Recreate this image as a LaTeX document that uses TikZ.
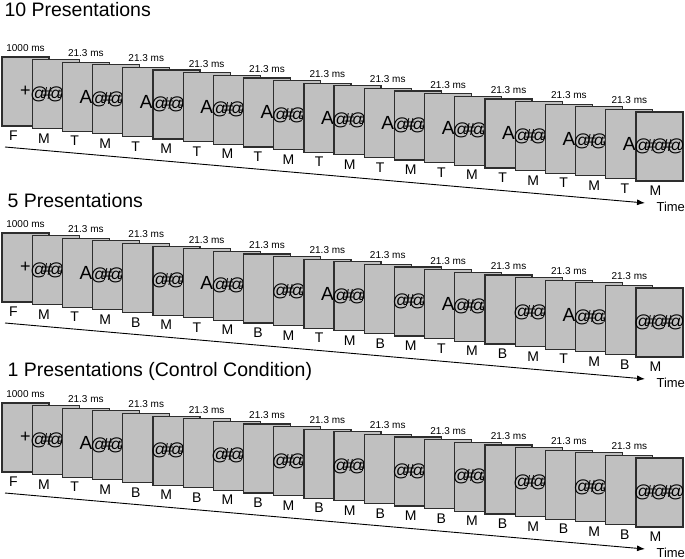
\documentclass[tikz,border=0pt]{standalone}
\usepackage{fontspec}
\setmainfont{Liberation Sans}
\usetikzlibrary{arrows.meta}
\definecolor{slide}{HTML}{C0C0C0}
\definecolor{rim}{HTML}{2E2E2E}
% what each slide shows
\newcommand{\stimF}{\fontsize{18}{18}\selectfont +}
\newcommand{\stimM}{\makebox[0pt]{\fontsize{17.5}{17.5}\selectfont @\kern-5.5pt\#\kern-5.5pt@\kern-5.5pt\#\kern-5.5pt@}}
\newcommand{\stimT}{\fontsize{19}{19}\selectfont A}
\newcommand{\stimB}{}
\begin{document}
\begin{tikzpicture}[x=1pt,y=-1pt,
  slidebox/.style={draw=rim,fill=slide,line width=1.2pt,minimum width=47pt,minimum height=69pt,inner sep=0pt},
  dur/.style={font=\fontsize{10}{12}\selectfont,anchor=base},
  lbl/.style={font=\fontsize{14}{16}\selectfont,anchor=base},
  ttl/.style={font=\fontsize{19.5}{23}\selectfont,anchor=base west}]
\useasboundingbox (0,0) rectangle (685,559);
\node[ttl] (title1) at (1,17) {10 Presentations};
\node[ttl] (title2) at (4,207) {5 Presentations};
\node[ttl] (title3) at (4,376) {1 Presentations (Control Condition)};
% one row of slides per condition
\foreach \p/\off/\seq in {1/0/{F,M,T,M,T,M,T,M,T,M,T,M,T,M,T,M,T,M,T,M,T,M},
                          2/176/{F,M,T,M,B,M,T,M,B,M,T,M,B,M,T,M,B,M,T,M,B,M},
                          3/346/{F,M,T,M,B,M,B,M,B,M,B,M,B,M,B,M,B,M,B,M,B,M}} {
  \foreach \k [count=\i from 0] in \seq {
    \pgfmathsetmacro\cx{25.5+30.19*\i}
    \pgfmathsetmacro\cy{91.5+2.62*\i+\off}
    \node[slidebox] (s\p-\i) at (\cx,\cy) {\csname stim\k\endcsname};
    \node[lbl] (l\p-\i) at ([xshift={12+0.38*\i},yshift=-14pt]s\p-\i.south west) {\k};
    \ifnum\i=0 \node[dur] (d\p-\i) at ([yshift=5pt]s\p-\i.north) {1000 ms};\fi
    \ifodd\i\else\ifnum\i>0 \ifnum\i<21 \node[dur] (d\p-\i) at ([yshift=5pt]s\p-\i.north) {21.3 ms};\fi\fi\fi
  }
  \coordinate (a\p) at (5,147+\off);
  \coordinate (b\p) at (645,203+\off);
  \draw[line width=0.9pt,-{Latex[length=8pt,width=6pt]}] (a\p) -- (b\p);
  \node[font=\fontsize{13}{15}\selectfont,anchor=base west] (time\p) at ([xshift=8pt,yshift=-8pt]b\p) {Time};
}
\end{tikzpicture}
\end{document}
